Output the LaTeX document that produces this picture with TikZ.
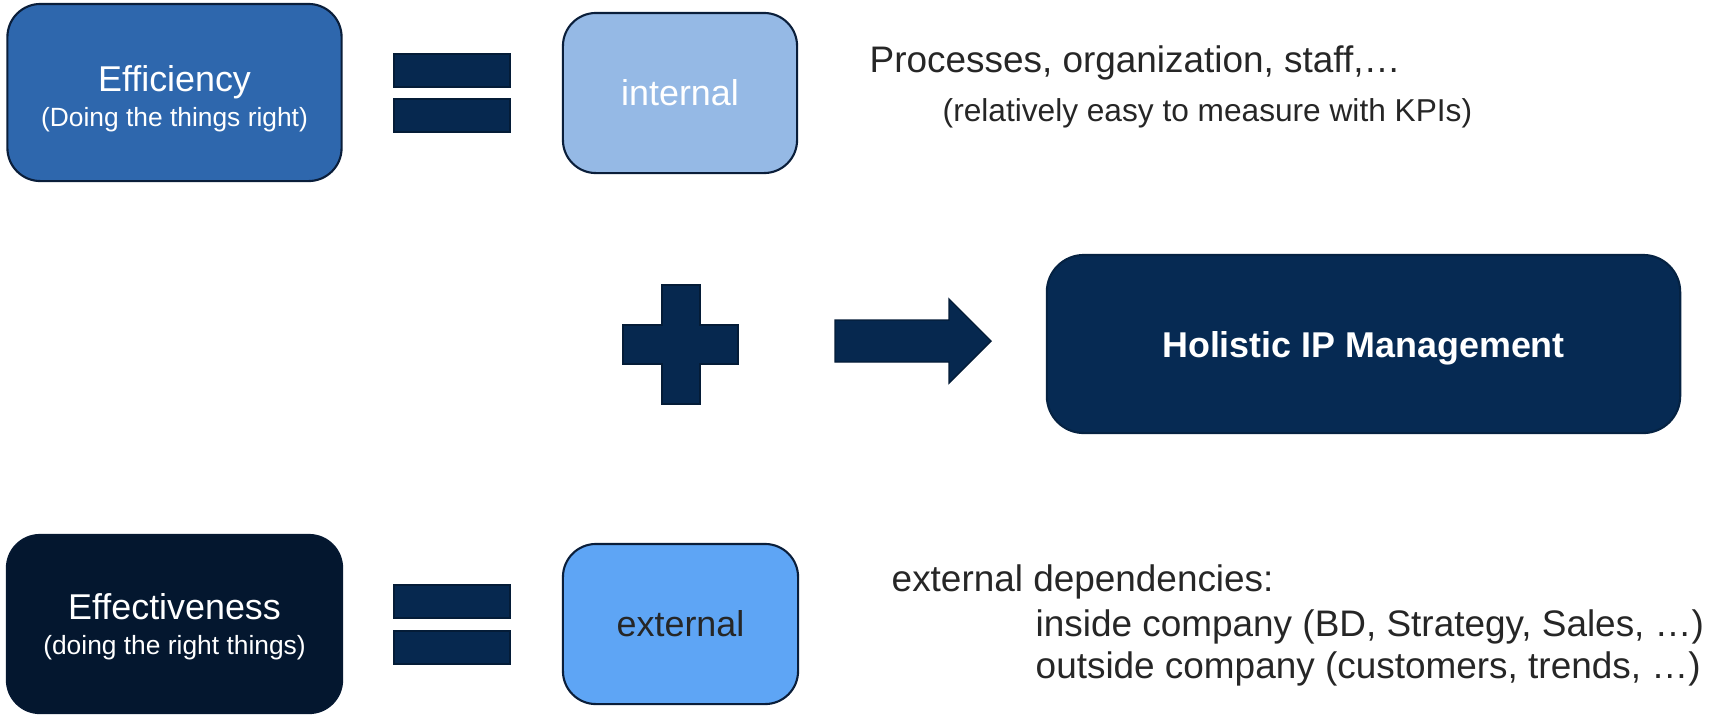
\documentclass[tikz,border=0pt]{standalone}
\usepackage{fontspec}
\setmainfont{Liberation Sans}
\usetikzlibrary{positioning}
\definecolor{Effcol}{RGB}{46, 103, 173}
\definecolor{Intcol}{RGB}{149, 185, 229}
\definecolor{Extcol}{RGB}{94, 165, 245}
\definecolor{Etvcol}{RGB}{4, 23, 47}
\definecolor{Holcol}{RGB}{6, 42, 83}
\definecolor{Barcol}{RGB}{6, 40, 79}
\definecolor{Bordcol}{RGB}{10, 30, 58}
\definecolor{Txtcol}{RGB}{38, 38, 38}

\begin{document}
\begin{tikzpicture}[
    x=0.01cm, y=-0.01cm,
    every node/.style={align=center},
    boxstyle/.style={
        rectangle, rounded corners=0.33cm,
        draw=Bordcol, line width=0.6pt,
        inner sep=0pt, font=\fontsize{10.2}{12}\selectfont
    },
    notetext/.style={
        inner sep=0pt, anchor=base west,
        text=Txtcol, font=\fontsize{10.5}{12}\selectfont
    },
    barstyle/.style={fill=Barcol, draw=Barcol!70!black, line width=0.4pt}
]
    \useasboundingbox (0,0) rectangle (1719,714);

    % ------------------- RIGA ALTA (Efficiency) -------------------
    \node[boxstyle, fill=Effcol, text=white, minimum width=3.34cm, minimum height=1.77cm]
        (bEff) at (174.5, 92.5) {\rule{0pt}{10.8pt}Efficiency\\[-2pt]{\fontsize{7.5}{9}\selectfont (Doing the things right)}};

    \fill[barstyle] (394,54) rectangle (510,87);
    \fill[barstyle] (394,99) rectangle (510,132);

    \node[boxstyle, fill=Intcol, text=white, minimum width=2.34cm, minimum height=1.6cm]
        (bInt) at (680, 93) {internal};

    \node[notetext] (tProc) at (869, 72) {Processes, organization, staff,…};
    \node[notetext, font=\fontsize{9}{11}\selectfont] (tKpi) at (942, 121) {(relatively easy to measure with KPIs)};

    % ------------------- CENTRO (somma e risultato) -------------------
    \fill[barstyle] (662,285) -- (700,285) -- (700,325) -- (738,325) -- (738,364) -- (700,364)
        -- (700,404) -- (662,404) -- (662,364) -- (623,364) -- (623,325) -- (662,325) -- cycle;

    \fill[barstyle] (835,320) -- (949,320) -- (949,299) -- (991,341) -- (949,383) -- (949,362)
        -- (835,362) -- cycle;

    \node[boxstyle, rounded corners=0.37cm, fill=Holcol, draw=Holcol!80!black, text=white,
        font=\fontsize{10.2}{12}\selectfont\bfseries, text depth=0pt,
        minimum width=6.33cm, minimum height=1.78cm]
        (bHol) at (1363.5, 344) {Holistic IP Management};

    % ------------------- RIGA BASSA (Effectiveness) -------------------
    \node[boxstyle, fill=Etvcol, draw=Etvcol!80!Bordcol, text=white, minimum width=3.35cm, minimum height=1.78cm]
        (bEtv) at (174.5, 624) {\rule{0pt}{9pt}Effectiveness\\[-2pt]{\fontsize{7.5}{9}\selectfont (doing the right things)}};

    \fill[barstyle] (394,585) rectangle (510,618);
    \fill[barstyle] (394,631) rectangle (510,664);

    \node[boxstyle, fill=Extcol, text=Txtcol, minimum width=2.35cm, minimum height=1.6cm]
        (bExt) at (680.5, 624) {external};

    \node[notetext] (tDep) at (891, 591) {external dependencies:};
    \node[notetext] (tIns) at (1035, 636) {inside company (BD, Strategy, Sales, …)};
    \node[notetext] (tOut) at (1035, 678) {outside company (customers, trends, …)};
\end{tikzpicture}
\end{document}
